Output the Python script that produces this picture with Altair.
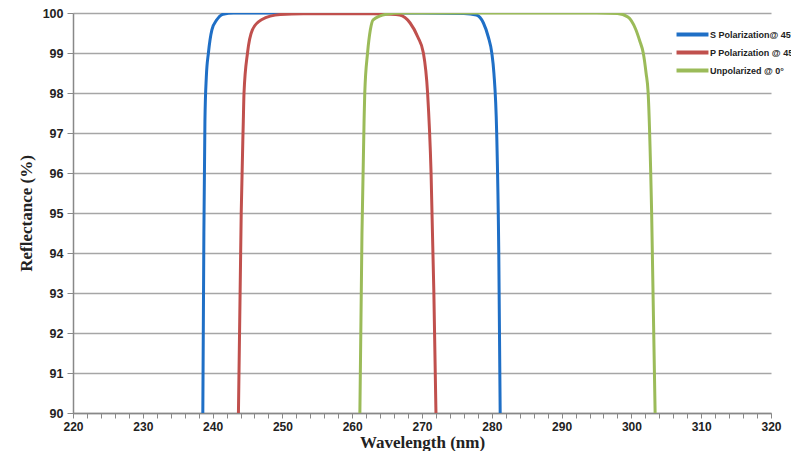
import altair as alt
import pandas as pd

series_names = ["S Polarization@ 45°", "P Polarization @ 45°", "Unpolarized @ 0°"]
colors = ["#1F6FC6", "#C0504D", "#9BBB59"]

s_x = [238.6, 238.75, 238.9, 239.1, 239.4, 239.9, 240.6, 241.5, 243.0, 250, 260, 270, 276.0, 277.8, 278.8, 279.5, 280.0, 280.3, 280.7, 281.0, 281.2]
s_y = [90, 94.5, 97.3, 98.4, 99.0, 99.58, 99.83, 99.97, 100, 100, 100, 100, 99.99, 99.95, 99.75, 99.4, 99.0, 98.5, 97.0, 94.0, 90]

p_x = [243.7, 244.1, 244.4, 244.5, 245.0, 245.7, 247.0, 249.7, 253.0, 258, 263, 265.5, 266.8, 268.3, 269.4, 270.2, 270.8, 271.3, 271.7, 272.0]
p_y = [90, 95, 97.3, 98.0, 99.0, 99.58, 99.83, 99.96, 99.98, 99.98, 99.98, 99.97, 99.95, 99.75, 99.4, 99.0, 98.0, 96.0, 93.0, 90]

u_x = [261.1, 261.4, 261.7, 261.8, 262.2, 262.6, 263.0, 264.9, 267, 275, 285, 295, 298.0, 299.5, 300.6, 301.2, 301.7, 302.1, 302.4, 302.9, 303.4]
u_y = [90, 94.5, 97.3, 98.0, 99.0, 99.58, 99.83, 99.97, 100, 100, 100, 100, 99.99, 99.9, 99.6, 99.3, 99.0, 98.5, 98.0, 95.0, 90]

x_ticks = list(range(220, 322, 2))
y_ticks = list(range(90, 101))

rows = []
for name, xs, ys in zip(series_names, [s_x, p_x, u_x], [s_y, p_y, u_y]):
    for i, (a, b) in enumerate(zip(xs, ys)):
        rows.append({"series": name, "wl": a, "refl": b, "idx": i})
df = pd.DataFrame(rows)

chart = alt.Chart(df).mark_line(strokeWidth=3, interpolate="monotone", clip=True).encode(
    x=alt.X("wl:Q", scale=alt.Scale(domain=[220, 320], nice=False, zero=False),
            axis=alt.Axis(title="Wavelength (nm)", values=x_ticks,
                          labelExpr="datum.value % 10 == 0 ? datum.label : ''",
                          labelFlush=False, labelOverlap=False,
                          grid=False, tickSize=5, tickColor="#888888", domainColor="#888888",
                          domainWidth=1.5, labelFont="Liberation Sans", labelFontWeight="bold",
                          labelFontSize=12, labelColor="#222222", labelPadding=3,
                          titleFont="Liberation Serif", titleFontSize=17, titleFontWeight="bold",
                          titleColor="#222222", titlePadding=2)),
    y=alt.Y("refl:Q", scale=alt.Scale(domain=[90, 100], nice=False, zero=False),
            axis=alt.Axis(title="Reflectance (%)", values=y_ticks, grid=True,
                          gridColor="#A6A6A6", gridWidth=1.5, tickSize=6, tickColor="#888888",
                          domainColor="#888888", domainWidth=1.5, labelFont="Liberation Sans",
                          labelFontWeight="bold", labelFontSize=12.5, labelColor="#222222",
                          labelPadding=4, titleFont="Liberation Serif", titleFontSize=17,
                          titleFontWeight="bold", titleColor="#222222", titlePadding=7)),
    color=alt.Color("series:N", scale=alt.Scale(domain=series_names, range=colors),
                    legend=alt.Legend(title=None, orient="none", legendX=599, legendY=9,
                                      fillColor="white", padding=3, symbolType="M-2.13,0H2.13",
                                      symbolStrokeWidth=4, symbolSize=225, symbolOffset=8,
                                      labelFont="Liberation Sans",
                                      labelFontWeight="bold", labelFontSize=9, labelColor="#222222",
                                      rowPadding=-2, labelOffset=8, labelLimit=200)),
    order="idx:Q",
).properties(
    width=698, height=400,
    padding={"left": 65, "top": 5, "right": 20, "bottom": 38},
    autosize=alt.AutoSizeParams(type="none"),
).configure_view(stroke=None)

chart.save("out.html", embed_options={"renderer": "svg", "actions": False})
